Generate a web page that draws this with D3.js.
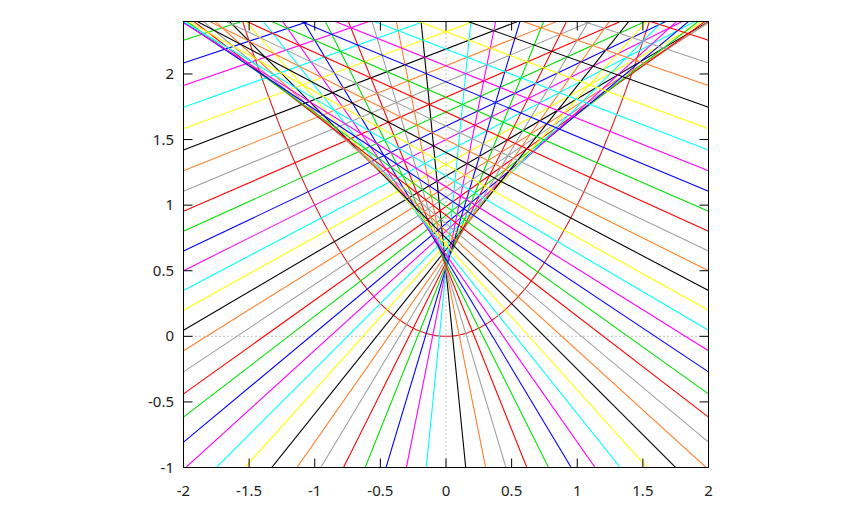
<!DOCTYPE html>
<html>
<head>
<meta charset="utf-8">
<script src="https://cdn.jsdelivr.net/npm/d3@7"></script>
<style>
  body { margin: 0; background: #fff; }
  svg { display: block; }
  text { font-family: "Noto Sans", "DejaVu Sans", sans-serif; font-size: 15px; fill: #222; }
</style>
</head>
<body>
<svg id="chart" width="854" height="512"></svg>
<script>
// Parameter (foot point x on the parabola y = x^2) of each normal line drawn
const footT = [-1.55, -1.5, -1.45, -1.4, -1.35, -1.3, -1.25, -1.2, -1.15, -1.1,
  -1.05, -1.0, -0.95, -0.9, -0.85, -0.8, -0.75, -0.7, -0.65, -0.6,
  -0.55, -0.5, -0.45, -0.4, -0.35, -0.3, -0.25, -0.2, -0.15, -0.1, -0.05,
  0.05, 0.1, 0.15, 0.2, 0.25, 0.3, 0.35, 0.4, 0.45, 0.5,
  0.55, 0.6, 0.65, 0.7, 0.75, 0.8, 0.85, 0.9, 0.95, 1.0,
  1.05, 1.1, 1.15, 1.2, 1.25, 1.3, 1.35, 1.4, 1.45, 1.5, 1.55];
const lineColors = ["#ff0000", "#00e000", "#0000ff", "#ff00ff", "#00ffff",
  "#ffff00", "#000000", "#ff7f2a", "#a0a0a0"];
const xTicks = [-2, -1.5, -1, -0.5, 0, 0.5, 1, 1.5, 2];
const yTicks = [-1, -0.5, 0, 0.5, 1, 1.5, 2];
const xDomain = [-2, 2];
const yDomain = [-1, 2.4];

const svg = d3.select("#chart");
const L = 183.5, R = 708.5, T = 21.5, B = 467.5;
const x = d3.scaleLinear().domain(xDomain).range([L, R]);
const y = d3.scaleLinear().domain(yDomain).range([B, T]);

svg.append("defs").append("clipPath").attr("id", "clip")
  .append("rect").attr("x", L).attr("y", T).attr("width", R - L).attr("height", B - T);

const plot = svg.append("g").attr("clip-path", "url(#clip)");

// zero axes (dotted)
plot.append("line").attr("x1", L).attr("x2", R).attr("y1", y(0)).attr("y2", y(0))
  .attr("stroke", "#888").attr("stroke-width", 1).attr("stroke-dasharray", "1,3");
plot.append("line").attr("x1", x(0)).attr("x2", x(0)).attr("y1", T).attr("y2", B)
  .attr("stroke", "#888").attr("stroke-width", 1).attr("stroke-dasharray", "1,3");

// parabola y = x^2
const parab = d3.range(-2, 2.0001, 0.01).map(v => [v, v * v]);
plot.append("path")
  .attr("d", d3.line().x(d => x(d[0])).y(d => y(d[1]))(parab))
  .attr("fill", "none").attr("stroke", "#e02020").attr("stroke-width", 1.1);

// normal lines to the parabola at each foot point
function normalY(t, xv) { return t * t + 0.5 - xv / (2 * t); }
footT.forEach(t => {
  const k = Math.round(t / 0.05);
  const ci = (((k + 5) % 9) + 9) % 9;
  plot.append("line")
    .attr("x1", x(xDomain[0])).attr("y1", y(normalY(t, xDomain[0])))
    .attr("x2", x(xDomain[1])).attr("y2", y(normalY(t, xDomain[1])))
    .attr("stroke", lineColors[ci]).attr("stroke-width", 1.1);
});

// frame
svg.append("rect").attr("x", L).attr("y", T).attr("width", R - L).attr("height", B - T)
  .attr("fill", "none").attr("stroke", "#000").attr("stroke-width", 1);

// ticks
const tl = 9;
xTicks.forEach(v => {
  svg.append("line").attr("x1", x(v)).attr("x2", x(v)).attr("y1", B).attr("y2", B - tl).attr("stroke", "#000");
  svg.append("line").attr("x1", x(v)).attr("x2", x(v)).attr("y1", T).attr("y2", T + tl).attr("stroke", "#000");
  svg.append("text").attr("x", x(v)).attr("y", 496).attr("text-anchor", "middle").text(String(v));
});
yTicks.forEach(v => {
  svg.append("line").attr("x1", L).attr("x2", L + tl).attr("y1", y(v)).attr("y2", y(v)).attr("stroke", "#000");
  svg.append("line").attr("x1", R).attr("x2", R - tl).attr("y1", y(v)).attr("y2", y(v)).attr("stroke", "#000");
  svg.append("text").attr("x", 174).attr("y", y(v) + 5).attr("text-anchor", "end").text(String(v));
});
</script>
</body>
</html>
